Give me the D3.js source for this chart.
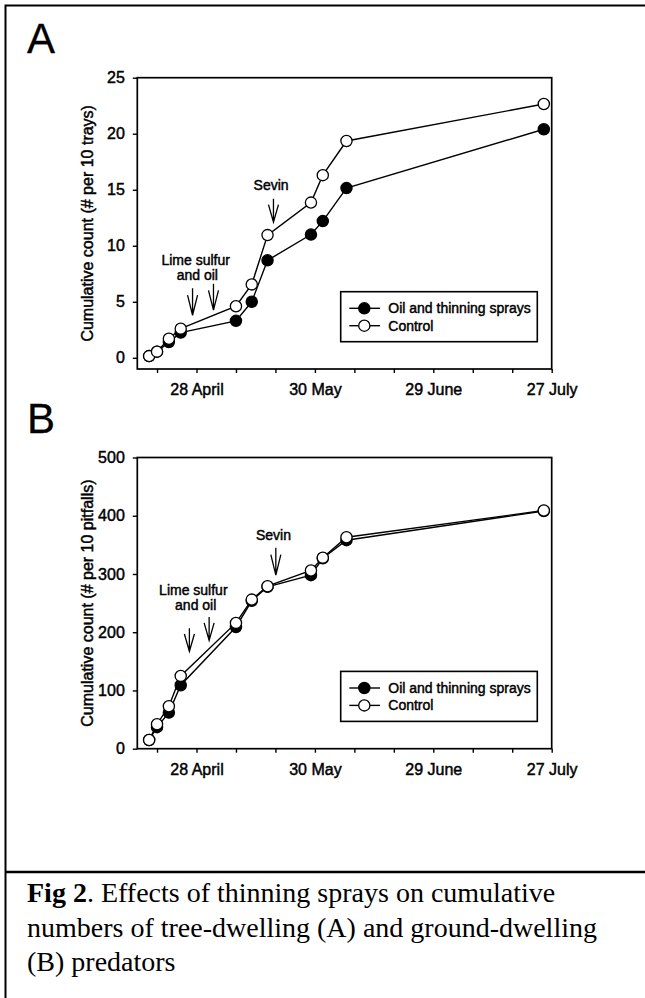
<!DOCTYPE html>
<html>
<head>
<meta charset="utf-8">
<script src="https://cdn.jsdelivr.net/npm/d3@7"></script>
<style>
  body { margin: 0; background: #fff; }
  svg text { font-family: Arial, "Liberation Sans", sans-serif; fill: #000; }
  .chart text { stroke: #000; stroke-width: 0.45px; }
  .caption text { font-family: "Times New Roman", "Liberation Serif", serif; }
</style>
</head>
<body>
<svg id="fig" width="645" height="998"></svg>
<script>
// sampling dates, as day of year
const days = [108, 110, 113, 116, 130, 134, 138, 149, 152, 158, 208]

// panel A: tree-dwelling predators (# per 10 trays)
const sprayedA = [0.15, 0.55, 1.4, 2.25, 3.3, 5.0, 8.7, 11.0, 12.2, 15.15, 20.4]
const controlA = [0.15, 0.55, 1.7, 2.6, 4.6, 6.55, 10.95, 13.85, 16.3, 19.35, 22.65]

// panel B: ground-dwelling predators (# per 10 pitfalls)
const sprayedB = [15, 37, 62, 109, 209, 254, 278, 298, 327, 358, 408]
const controlB = [15, 42, 73, 125, 216, 256, 279, 306, 328, 363, 409]

const tickDays = d3.range(110, 211, 10)
const tickLabels = ["", "28 April", "", "", "30 May", "", "", "29 June", "", "", "27 July"]
const seriesNames = ["Oil and thinning sprays", "Control"]

const yTicksA = [0, 5, 10, 15, 20, 25]
const yTicksB = [0, 100, 200, 300, 400, 500]

// spray arrows: day, value at top, value at tip
const arrowsA = [[119, 6.2, 3.8], [124.3, 6.6, 4.25], [139.5, 14.2, 12.1]]
const arrowsB = [[118.2, 207, 167], [123.2, 226, 186], [140.1, 345, 298]]
// annotation text: text, day, value at baseline
const notesA = [["Lime sulfur", 119.8, 8.25], ["and oil", 120.2, 6.9], ["Sevin", 138.9, 15.0]]
const notesB = [["Lime sulfur", 119.2, 264], ["and oil", 119.8, 238], ["Sevin", 139.5, 359]]

const svg = d3.select("#fig")

// outer frame (cut off on the right) and caption rule
svg.append("path")
  .attr("d", "M660,5.5H5.5V1000")
  .attr("fill", "none").attr("stroke", "#000").attr("stroke-width", 2)
svg.append("line")
  .attr("x1", 5).attr("x2", 660).attr("y1", 872).attr("y2", 872)
  .attr("stroke", "#000").attr("stroke-width", 2.5)

const x = d3.scaleLinear().domain([105, 210]).range([137.3, 551.7])

function panel(cfg) {
  const y = d3.scaleLinear().domain(cfg.yDomain).range(cfg.yRange)
  const g = svg.append("g").attr("class", "chart")
  const [x0, x1] = x.range()
  const [yb, yt] = cfg.yRange

  g.append("text")
    .attr("x", 27).attr("y", cfg.letterY)
    .attr("font-size", 42)
    .style("stroke-width", "0.3px")
    .text(cfg.letter)

  g.append("g")
    .attr("transform", `translate(0,${yb})`)
    .call(d3.axisBottom(x).tickValues(tickDays).tickSize(4).tickPadding(11)
      .tickFormat((d, i) => tickLabels[i]))
    .call(a => a.select(".domain").remove())
    .call(a => a.selectAll("line").attr("stroke-width", 1.4))
    .call(a => a.selectAll("text").attr("font-size", 16).attr("font-family", null))

  g.append("g")
    .attr("transform", `translate(${x0},0)`)
    .call(d3.axisLeft(y).tickValues(cfg.yTicks).tickSize(4.5).tickPadding(8))
    .call(a => a.select(".domain").remove())
    .call(a => a.selectAll("line").attr("stroke-width", 1.4))
    .call(a => a.selectAll("text").attr("font-size", 16).attr("font-family", null))

  g.append("rect")
    .attr("x", x0).attr("y", yt).attr("width", x1 - x0).attr("height", yb - yt)
    .attr("fill", "none").attr("stroke", "#000").attr("stroke-width", 1.7)

  g.append("text")
    .attr("transform", `translate(93,${(yb + yt) / 2}) rotate(-90)`)
    .attr("text-anchor", "middle")
    .attr("font-size", 16)
    .text(cfg.title)

  // arrows and notes
  cfg.arrows.forEach(([d, top, tip]) => {
    const ax = x(d), ay0 = y(top), ay1 = y(tip)
    const head = (ay1 - ay0) * 0.75
    g.append("path")
      .attr("d", `M${ax},${ay0}V${ay1}M${ax - 5},${ay1 - head}L${ax},${ay1}L${ax + 5},${ay1 - head}`)
      .attr("fill", "none").attr("stroke", "#000").attr("stroke-width", 1.3)
  })
  g.selectAll(".note").data(cfg.notes).join("text")
    .attr("x", d => x(d[1])).attr("y", d => y(d[2]))
    .attr("text-anchor", "middle").attr("font-size", 14)
    .text(d => d[0])

  const line = d3.line().x((d, i) => x(days[i])).y(d => y(d))
  const series = [
    { values: cfg.sprayed, fill: "#000" },
    { values: cfg.control, fill: "#fff" }
  ]
  series.forEach(s => {
    g.append("path").datum(s.values).attr("d", line)
      .attr("fill", "none").attr("stroke", "#000").attr("stroke-width", 1.4)
  })
  series.forEach(s => {
    g.append("g").selectAll("circle").data(s.values).join("circle")
      .attr("cx", (d, i) => x(days[i])).attr("cy", d => y(d)).attr("r", 5.6)
      .attr("fill", s.fill).attr("stroke", "#000").attr("stroke-width", 1.3)
  })

  // legend
  const lg = g.append("g").attr("transform", `translate(340.7,${yb - 77.3})`)
  lg.append("rect").attr("width", 196.6).attr("height", 50)
    .attr("fill", "#fff").attr("stroke", "#000").attr("stroke-width", 1.6)
  series.forEach((s, i) => {
    const ry = 16.6 + i * 17.4
    lg.append("line").attr("x1", 8.6).attr("x2", 39.3).attr("y1", ry).attr("y2", ry)
      .attr("stroke", "#000").attr("stroke-width", 1.4)
    lg.append("circle").attr("cx", 23.6).attr("cy", ry).attr("r", 5.6)
      .attr("fill", s.fill).attr("stroke", "#000").attr("stroke-width", 1.3)
    lg.append("text").attr("x", 47.6).attr("y", ry).attr("dy", "0.36em")
      .attr("font-size", 14).text(seriesNames[i])
  })
}

panel({
  letter: "A", letterY: 53.3,
  yDomain: [-1, 25], yRange: [369, 77.7], yTicks: yTicksA,
  title: "Cumulative count (# per 10 trays)",
  sprayed: sprayedA, control: controlA, arrows: arrowsA, notes: notesA
})

panel({
  letter: "B", letterY: 433.3,
  yDomain: [0, 500], yRange: [748.7, 457.5], yTicks: yTicksB,
  title: "Cumulative count (# per 10 pitfalls)",
  sprayed: sprayedB, control: controlB, arrows: arrowsB, notes: notesB
})

// caption
const cap = svg.append("g").attr("class", "caption").attr("font-size", 28)
const l1 = cap.append("text").attr("x", 27).attr("y", 902)
l1.append("tspan").attr("font-weight", "bold").text("Fig 2")
l1.append("tspan").text(". Effects of thinning sprays on cumulative")
cap.append("text").attr("x", 27).attr("y", 936.5)
  .text("numbers of tree-dwelling (A) and ground-dwelling")
cap.append("text").attr("x", 27).attr("y", 971).text("(B) predators")
</script>
</body>
</html>
